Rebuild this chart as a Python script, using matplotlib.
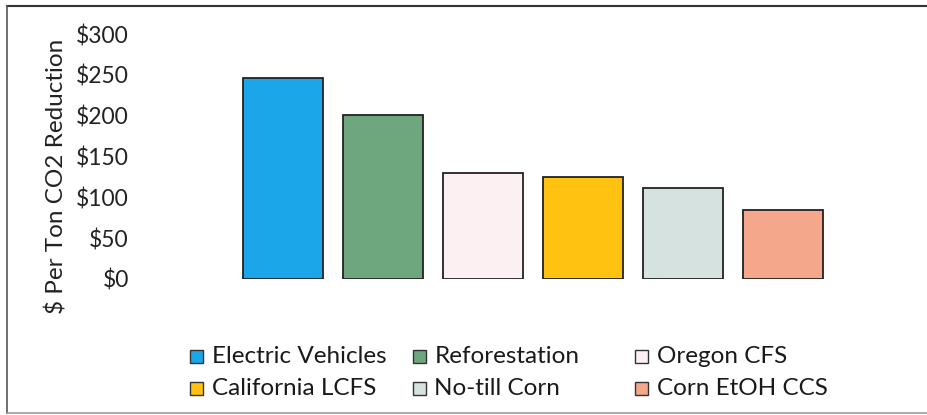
import matplotlib
matplotlib.use("Agg")
import matplotlib.pyplot as plt
from matplotlib.patches import Rectangle
from matplotlib.lines import Line2D

categories = ["Electric Vehicles", "Reforestation", "Oregon CFS",
              "California LCFS", "No-till Corn", "Corn EtOH CCS"]
values = [246, 201, 130, 125, 111, 85]
colors = ["#1BA6EA", "#6EA67E", "#FCF0F2", "#FFC211", "#D5E2DF", "#F5A78C"]
yticks = [0, 50, 100, 150, 200, 250, 300]
ytick_labels = ["$0", "$50", "$100", "$150", "$200", "$250", "$300"]

plt.rcParams['font.family'] = ['Lato', 'DejaVu Sans']

W, H = 927, 415
fig = plt.figure(figsize=(W / 100, H / 100), dpi=100)
fig.patch.set_facecolor("white")

ax = fig.add_axes([233 / W, 1 - 279 / H, 600 / W, 245 / H])
x = list(range(len(categories)))
ax.bar(x, values, width=0.8, color=colors, edgecolor="#222222", linewidth=1.3)
ax.set_xlim(-0.5, len(categories) - 0.5)
ax.set_ylim(0, 300)
ax.set_yticks(yticks)
ax.set_yticklabels(ytick_labels, fontsize=16.5, color="#222222")
ax.tick_params(axis="y", length=0, pad=75)
ax.set_xticks([])
for s in ax.spines.values():
    s.set_visible(False)

fig.text(57 / W, 1 - 176 / H, "$ Per Ton CO2 Reduction", rotation=90,
         ha="center", va="center", fontsize=17.5, color="#222222")

# legend laid out like Excel: equal-width columns, filled row by row
ncol = 3
col_x0, col_step = 190, 222.5
row_y0, row_step = 356, 32
box = 13
for i, (lab, c) in enumerate(zip(categories, colors)):
    r, k = divmod(i, ncol)
    px = col_x0 + k * col_step
    py = row_y0 + r * row_step
    fig.add_artist(Rectangle((px / W, 1 - (py + box / 2) / H), box / W, box / H,
                             transform=fig.transFigure, facecolor=c,
                             edgecolor="#333333", linewidth=1.0))
    fig.text((px + box + 9) / W, 1 - py / H, lab, ha="left", va="center",
             fontsize=17.5, color="#1a1a1a")

fig.add_artist(Line2D([7 / W, 1], [1 - 6 / H, 1 - 6 / H], color="#333333", lw=1.5))
fig.add_artist(Line2D([7 / W, 7 / W], [1 - 6 / H, 1 - 413 / H], color="#555555", lw=1.2))
fig.add_artist(Line2D([7 / W, 1], [1 - 413 / H, 1 - 413 / H], color="#999999", lw=1.2))

fig.savefig("out.png", dpi=100, facecolor="white")
